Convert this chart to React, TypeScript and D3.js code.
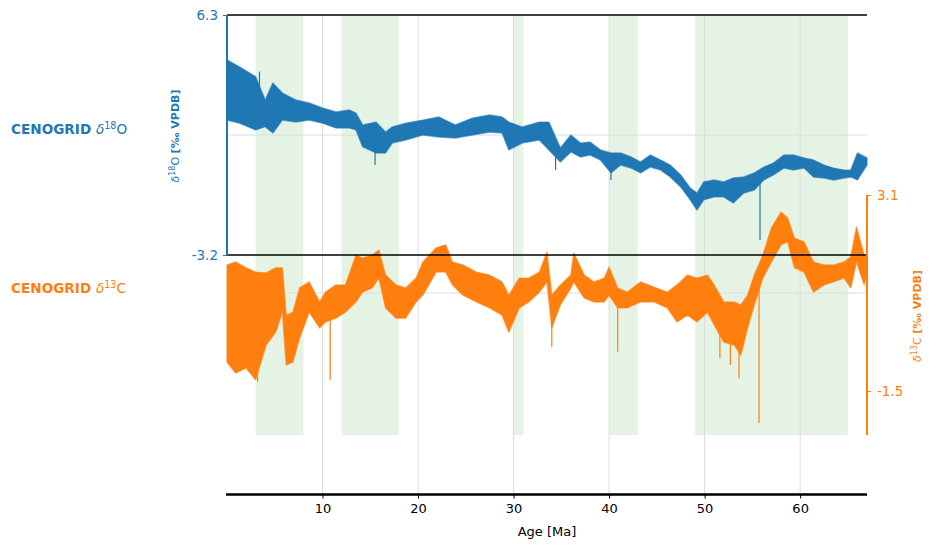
import React, { useRef, useEffect } from 'react';
import * as d3 from 'd3';

// CENOGRID δ18O, envelope of the trace (upper / lower) read per age step
const ages18 = [0, 1.3, 3, 4, 4.8, 5.8, 7.2, 8.6, 10, 11.4, 12.8, 13.5, 14.2, 15.6, 16.6, 17.3, 18.7, 20.5, 22.2, 23.9, 25.7, 27.5, 28.8, 29.5, 30.9, 32.7, 33.7, 34.9, 36, 37, 38, 39.1, 40.2, 41.2, 42.3, 43.3, 44.3, 45.4, 46.4, 47.5, 48.5, 49.2, 49.9, 51, 52, 53, 54.1, 55.2, 56.2, 57.2, 58.3, 59.3, 60.4, 61.4, 62.5, 63.5, 64.6, 65.3, 66, 67];
const d18Upper = [4.52, 4.25, 3.86, 2.94, 3.61, 3.21, 2.94, 2.82, 2.62, 2.46, 2.54, 2.42, 1.95, 2.06, 1.67, 1.87, 2.02, 2.14, 2.26, 1.95, 2.22, 2.34, 2.26, 2.06, 1.87, 2.06, 2.06, 1.04, 1.55, 1.23, 1.27, 0.96, 0.84, 0.84, 0.68, 0.48, 0.76, 0.56, 0.36, -0.03, -0.55, -0.75, -0.31, -0.23, -0.31, -0.15, -0.11, 0.05, 0.28, 0.44, 0.76, 0.76, 0.64, 0.56, 0.36, 0.24, 0.16, 0.16, 0.84, 0.64];
const d18Lower = [2.14, 2.02, 1.75, 1.88, 1.63, 2.14, 2.06, 2.14, 2.02, 1.83, 1.83, 1.75, 1.08, 0.84, 0.84, 1.23, 1.35, 1.55, 1.47, 1.43, 1.55, 1.67, 1.63, 0.96, 1.23, 1.35, 0.96, 0.48, 0.88, 0.68, 0.76, 0.56, 0.05, 0.36, 0.24, 0.05, 0.28, 0.16, -0.11, -0.51, -1.02, -1.42, -1.02, -0.9, -0.9, -1.14, -0.75, -0.63, -0.23, -0.03, 0.24, 0.16, 0.24, -0.11, -0.15, -0.23, -0.15, -0.11, -0.23, 0.36];
const d18SpikeAges = [3.4, 15.5, 34.4, 40.2, 55.8];
const d18SpikeValues = [4.06, 0.36, 0.16, -0.23, -2.61];

// CENOGRID δ13C
const ages13 = [0, 0.9, 2, 3, 4.1, 5.1, 5.8, 6.2, 6.9, 7.6, 8.6, 9.7, 10.3, 11.4, 12.4, 13.5, 14.2, 15.2, 15.9, 16.6, 17.7, 18.7, 19.8, 20.5, 21.9, 22.9, 23.6, 24.7, 26.1, 27.5, 28.8, 29.5, 30.6, 31.6, 32.7, 33.5, 34, 34.9, 36, 36.3, 37.4, 38.4, 39.5, 40, 40.9, 41.9, 43.3, 44.7, 46.1, 47.1, 48.2, 49.2, 50.3, 51, 52, 53.1, 53.8, 54.5, 55.2, 56.1, 57, 58, 58.7, 59.4, 60.4, 61.4, 62.5, 63.5, 64.6, 65.3, 65.9, 66.7, 67];
const d13Upper = [1.46, 1.53, 1.39, 1.29, 1.27, 1.39, 1.39, 0.28, 0.35, 0.92, 1.06, 0.59, 0.82, 0.99, 0.99, 1.69, 1.62, 1.69, 1.81, 1.22, 0.99, 0.92, 1.15, 1.53, 1.86, 1.93, 1.53, 1.46, 1.29, 1.22, 1.06, 0.75, 1.15, 1.15, 1.29, 1.76, 0.75, 0.99, 1.22, 1.74, 1.22, 1.06, 1.15, 1.41, 0.92, 0.82, 1.06, 0.94, 0.82, 0.99, 1.22, 1.15, 1.22, 0.99, 0.59, 0.59, 0.52, 0.75, 1.22, 1.69, 2.33, 2.7, 2.56, 2.09, 2.0, 1.53, 1.46, 1.46, 1.53, 1.65, 2.35, 1.69, 1.62];
const d13Lower = [-0.82, -1.08, -0.96, -1.24, -0.42, -0.12, 0.35, -0.89, -0.82, -0.26, 0.35, -0.02, 0.12, 0.21, 0.35, 0.59, 0.82, 0.92, 1.15, 0.45, 0.21, 0.21, 0.59, 0.75, 1.29, 1.29, 0.99, 0.75, 0.59, 0.45, 0.28, -0.12, 0.45, 0.59, 0.82, 1.06, -0.02, 0.52, 0.92, 1.06, 0.68, 0.59, 0.59, 0.75, 0.45, 0.45, 0.59, 0.59, 0.45, 0.12, 0.28, 0.12, 0.35, 0.05, -0.35, -0.42, -0.66, -0.02, 0.52, 1.15, 1.53, 1.93, 2.0, 1.39, 1.29, 0.82, 0.99, 1.06, 1.15, 0.92, 1.53, 0.99, 1.29];
const d13SpikeAges = [3.2, 10.8, 34.0, 40.9, 51.6, 52.7, 53.6, 55.7];
const d13SpikeValues = [-1.28, -1.24, -0.47, -0.58, -0.73, -0.89, -1.2, -2.25];

// shaded intervals [Ma]
const bandStarts = [3, 12, 30, 40, 49];
const bandEnds = [8, 18, 31, 43, 65];

const xTicks = [10, 20, 30, 40, 50, 60];
const d18Ticks = [6.3, -3.2];
const d13Ticks = [3.1, -1.5];

const BLUE = '#1f77b4';
const ORANGE = '#ff7f0e';
const FONT = '"DejaVu Sans", sans-serif';

const dims = {
  width: 937,
  height: 548,
  left: 227,
  right: 867,
  top: 15,
  mid: 255,
  bandBottom: 435,
  axisY: 494.5,
};

const fmt = (d: number) => d.toFixed(1);

const App = () => {
  const svgRef = useRef(null);

  useEffect(() => {
    const svg = d3.select(svgRef.current);
    svg.selectAll('*').remove();

    const x = d3.scaleLinear().domain([0, 67]).range([dims.left, dims.right]);
    const y18 = d3.scaleLinear().domain([-3.2, 6.3]).range([dims.mid, dims.top]);
    const y13 = d3.scaleLinear().domain([-1.5, 3.1]).range([391, 195]);

    // shaded bands
    svg
      .append('g')
      .selectAll('rect')
      .data(bandStarts.map((s, i) => [s, bandEnds[i]]))
      .join('rect')
      .attr('x', (d) => x(d[0]))
      .attr('width', (d) => x(d[1]) - x(d[0]))
      .attr('y', dims.top)
      .attr('height', dims.bandBottom - dims.top)
      .attr('fill', '#2ca02c')
      .attr('fill-opacity', 0.12);

    // grid
    const grid = svg.append('g').attr('stroke', '#dcdcdc').attr('stroke-width', 1);
    grid
      .selectAll('line.v')
      .data(xTicks)
      .join('line')
      .attr('x1', (d) => x(d))
      .attr('x2', (d) => x(d))
      .attr('y1', dims.top)
      .attr('y2', dims.axisY);
    grid
      .append('line')
      .attr('x1', dims.left)
      .attr('x2', dims.right)
      .attr('y1', y18((6.3 + -3.2) / 2))
      .attr('y2', y18((6.3 + -3.2) / 2));
    grid
      .append('line')
      .attr('x1', dims.left)
      .attr('x2', dims.right)
      .attr('y1', y13((3.1 + -1.5) / 2))
      .attr('y2', y13((3.1 + -1.5) / 2));

    const drawSeries = (
      ages: number[],
      upper: number[],
      lower: number[],
      spikeAges: number[],
      spikeValues: number[],
      yScale: any,
      color: string
    ) => {
      const g = svg.append('g');
      const area = d3
        .area<number>()
        .x((d) => x(d))
        .y0((_, i) => yScale(lower[i]))
        .y1((_, i) => yScale(upper[i]));
      g.append('path')
        .attr('d', area(ages))
        .attr('fill', color)
        .attr('stroke', color)
        .attr('stroke-opacity', 0.6)
        .attr('stroke-width', 1.4)
        .attr('stroke-linejoin', 'round');
      const mid = d3
        .scaleLinear()
        .domain(ages)
        .range(ages.map((_, i) => (upper[i] + lower[i]) / 2));
      g.selectAll('line')
        .data(spikeAges)
        .join('line')
        .attr('x1', (d) => x(d))
        .attr('x2', (d) => x(d))
        .attr('y1', (d) => yScale(mid(d)))
        .attr('y2', (_, i) => yScale(spikeValues[i]))
        .attr('stroke', color)
        .attr('stroke-width', 1.2);
    };

    drawSeries(ages13, d13Upper, d13Lower, d13SpikeAges, d13SpikeValues, y13, ORANGE);
    drawSeries(ages18, d18Upper, d18Lower, d18SpikeAges, d18SpikeValues, y18, BLUE);

    // black frame lines
    [dims.top, dims.mid].forEach((yy) => {
      svg
        .append('line')
        .attr('x1', dims.left)
        .attr('x2', dims.right)
        .attr('y1', yy)
        .attr('y2', yy)
        .attr('stroke', '#000')
        .attr('stroke-width', 1.5);
    });

    // left δ18O axis
    const leftAxis = svg.append('g').attr('transform', `translate(${dims.left},0)`);
    leftAxis
      .call(d3.axisLeft(y18).tickValues(d18Ticks).tickSize(4).tickPadding(5).tickFormat(fmt as any))
      .call((g) => g.select('.domain').remove());
    leftAxis
      .append('line')
      .attr('y1', dims.top)
      .attr('y2', dims.mid)
      .attr('stroke', BLUE)
      .attr('stroke-width', 2);
    leftAxis.selectAll('.tick line').attr('stroke', BLUE);
    leftAxis
      .selectAll('.tick text')
      .attr('fill', BLUE)
      .attr('font-size', 13.5)
      .attr('font-family', FONT);

    // right δ13C axis
    const rightAxis = svg.append('g').attr('transform', `translate(${dims.right},0)`);
    rightAxis
      .call(d3.axisRight(y13).tickValues(d13Ticks).tickSize(4).tickPadding(6).tickFormat(fmt as any))
      .call((g) => g.select('.domain').remove());
    rightAxis
      .append('line')
      .attr('y1', 195)
      .attr('y2', dims.bandBottom)
      .attr('stroke', ORANGE)
      .attr('stroke-width', 2);
    rightAxis.selectAll('.tick line').attr('stroke', ORANGE);
    rightAxis
      .selectAll('.tick text')
      .attr('fill', ORANGE)
      .attr('font-size', 13.5)
      .attr('font-family', FONT);

    // bottom axis
    const bottom = svg.append('g').attr('transform', `translate(0,${dims.axisY})`);
    bottom
      .call(d3.axisBottom(x).tickValues(xTicks).tickSize(4).tickPadding(5))
      .call((g) => g.select('.domain').remove());
    bottom
      .append('line')
      .attr('x1', dims.left - 1)
      .attr('x2', dims.right)
      .attr('stroke', '#000')
      .attr('stroke-width', 2.5);
    bottom.selectAll('.tick line').attr('stroke', '#000');
    bottom
      .selectAll('.tick text')
      .attr('fill', '#000')
      .attr('font-size', 13)
      .attr('font-family', FONT);
    svg
      .append('text')
      .attr('x', (dims.left + dims.right) / 2)
      .attr('y', 536)
      .attr('text-anchor', 'middle')
      .attr('font-size', 13)
      .attr('font-family', FONT)
      .text('Age [Ma]');

    // series names on the left
    const seriesName = (yy: number, color: string, iso: string, el: string) => {
      const t = svg
        .append('text')
        .attr('x', 11)
        .attr('y', yy)
        .attr('fill', color)
        .attr('font-size', 13.6)
        .attr('font-family', FONT);
      t.append('tspan').attr('font-weight', 'bold').text('CENOGRID ');
      t.append('tspan').attr('font-style', 'italic').text('δ');
      t.append('tspan').attr('font-size', 9.6).attr('dy', -5).text(iso);
      t.append('tspan').attr('dy', 5).text(el);
    };
    seriesName(134, BLUE, '18', 'O');
    seriesName(293, ORANGE, '13', 'C');

    // rotated axis titles
    const axisTitle = (cx: number, cy: number, color: string, iso: string, el: string) => {
      const t = svg
        .append('text')
        .attr('transform', `translate(${cx},${cy}) rotate(-90)`)
        .attr('text-anchor', 'middle')
        .attr('fill', color)
        .attr('font-size', 11)
        .attr('font-family', FONT);
      t.append('tspan').attr('font-style', 'italic').text('δ');
      t.append('tspan').attr('font-size', 8).attr('dy', -4).text(iso);
      t.append('tspan').attr('dy', 4).text(el + ' ');
      t.append('tspan').attr('font-weight', 'bold').text('[‰ VPDB]');
    };
    axisTitle(179, 136, BLUE, '18', 'O');
    axisTitle(921, 316, ORANGE, '13', 'C');
  }, []);

  return (
    <svg
      ref={svgRef}
      width={dims.width}
      height={dims.height}
      style={{ position: 'absolute', left: 0, top: 0, background: '#fff' }}
    ></svg>
  );
};

export default App;
